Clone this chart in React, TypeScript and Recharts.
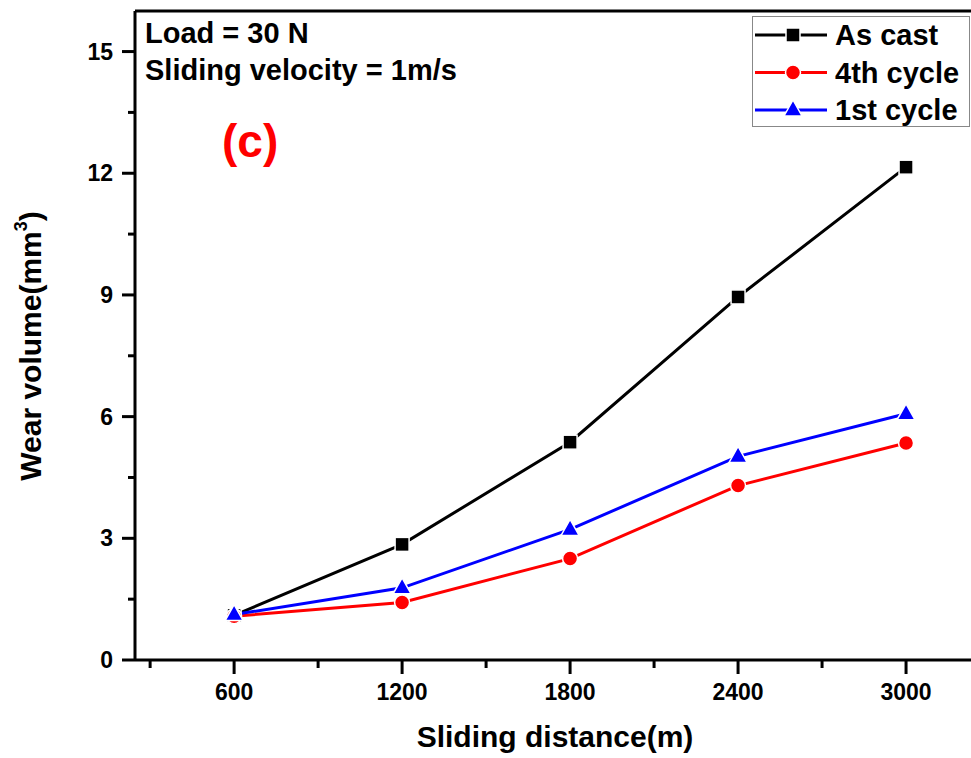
import React from 'react';
import { LineChart, Line, XAxis, YAxis, Legend, ReferenceLine } from 'recharts';

// values
const distances = [600, 1200, 1800, 2400, 3000];
const asCast = [1.1, 2.85, 5.37, 8.95, 12.15];
const fourthCycle = [1.08, 1.42, 2.5, 4.3, 5.35];
const firstCycle = [1.12, 1.78, 3.22, 5.02, 6.07];

const xMajorTicks = [600, 1200, 1800, 2400, 3000];
const xMinorTicks = [300, 900, 1500, 2100, 2700];
const yMajorTicks = [0, 3, 6, 9, 12, 15];
const yMinorTicks = [1.5, 4.5, 7.5, 10.5, 13.5];

const data = distances.map((d, i) => ({
  distance: d,
  asCast: asCast[i],
  fourth: fourthCycle[i],
  first: firstCycle[i],
}));

const FONT = '"Liberation Sans", Arial, sans-serif';

const series = [
  { key: 'asCast', name: 'As cast', color: '#000000', shape: 'square' },
  { key: 'fourth', name: '4th cycle', color: '#ff0000', shape: 'circle' },
  { key: 'first', name: '1st cycle', color: '#0000ff', shape: 'triangle' },
];

const Marker = ({ cx, cy, shape, color }: any) => {
  if (cx == null || cy == null) return null;
  if (shape === 'square') {
    return <rect x={cx - 7} y={cy - 7} width={14} height={14} fill={color} stroke="#fff" strokeWidth={1.5} />;
  }
  if (shape === 'circle') {
    return <circle cx={cx} cy={cy} r={7.5} fill={color} stroke="#fff" strokeWidth={1.5} />;
  }
  return (
    <polygon
      points={`${cx},${cy - 10} ${cx + 9},${cy + 6} ${cx - 9},${cy + 6}`}
      fill={color}
      stroke="#fff"
      strokeWidth={1.5}
    />
  );
};

const XTick = ({ x, y, payload }: any) => {
  const major = xMajorTicks.includes(payload.value);
  return (
    <g>
      <line x1={x} y1={y} x2={x} y2={y + (major ? 14 : 8)} stroke="#000" strokeWidth={3} />
      {major && (
        <text x={x} y={y + 40} textAnchor="middle" fontFamily={FONT} fontWeight="bold" fontSize={23} fill="#000">
          {payload.value}
        </text>
      )}
    </g>
  );
};

const YTick = ({ x, y, payload }: any) => {
  const major = yMajorTicks.includes(payload.value);
  return (
    <g>
      <line x1={x} y1={y} x2={x - (major ? 13 : 7)} y2={y} stroke="#000" strokeWidth={3} />
      {major && (
        <text x={x - 22} y={y + 8} textAnchor="end" fontFamily={FONT} fontWeight="bold" fontSize={23} fill="#000">
          {payload.value}
        </text>
      )}
    </g>
  );
};

const LegendBox = () => (
  <svg width={218} height={111} style={{ display: 'block' }}>
    <rect x={0.5} y={0.5} width={217} height={110} fill="#fff" stroke="#888" strokeWidth={1} />
    {series.map((s, i) => {
      const cy = 19 + i * 37.5;
      return (
        <g key={s.key}>
          <line x1={3} y1={cy} x2={75} y2={cy} stroke={s.color} strokeWidth={3} />
          <Marker cx={41} cy={cy} shape={s.shape} color={s.color} />
          <text x={83} y={cy + 10} fontFamily={FONT} fontWeight="bold" fontSize={29} fill="#000">
            {s.name}
          </text>
        </g>
      );
    })}
  </svg>
);

const YTitle = () => (
  <text
    transform="translate(41, 346) rotate(-90)"
    textAnchor="middle"
    fontFamily={FONT}
    fontWeight="bold"
    fontSize={30}
    fill="#000"
  >
    Wear volume(mm<tspan dy={-14} fontSize={18}>3</tspan>
    <tspan dy={14}>)</tspan>
  </text>
);

const XTitle = () => (
  <text x={555} y={747} textAnchor="middle" fontFamily={FONT} fontWeight="bold" fontSize={30} fill="#000">
    Sliding distance(m)
  </text>
);

export default function App() {
  return (
    <div style={{ position: 'absolute', left: 0, top: 0, width: 971, height: 758, overflow: 'hidden', background: '#fff' }}>
      <LineChart width={971} height={758} data={data} margin={{ top: 11, right: 0, bottom: 0, left: 0 }}>
        <XAxis
          dataKey="distance"
          type="number"
          domain={[246, 3232]}
          ticks={[...xMinorTicks, ...xMajorTicks].sort((a, b) => a - b)}
          tick={<XTick />}
          tickLine={false}
          tickSize={0}
          tickMargin={0}
          height={98}
          axisLine={{ stroke: '#000', strokeWidth: 3 }}
          allowDataOverflow
          label={{ content: () => <XTitle /> }}
        />
        <YAxis
          type="number"
          domain={[0, 16]}
          ticks={[...yMinorTicks, ...yMajorTicks].sort((a, b) => a - b)}
          tick={<YTick />}
          tickLine={false}
          tickSize={0}
          tickMargin={0}
          width={135}
          axisLine={{ stroke: '#000', strokeWidth: 3 }}
          interval={0}
          label={{ content: () => <YTitle /> }}
        />
        <ReferenceLine y={16} stroke="#000" strokeWidth={3} ifOverflow="visible" />
        <Legend
          layout="vertical"
          align="center"
          verticalAlign="middle"
          content={() => <LegendBox />}
          wrapperStyle={{ left: 752, top: 16, width: 218, height: 111 }}
        />
        {series.map((s) => (
          <Line
            key={s.key}
            dataKey={s.key}
            name={s.name}
            stroke={s.color}
            strokeWidth={3}
            isAnimationActive={false}
            dot={(p: any) => <Marker key={`${s.key}-${p.index}`} cx={p.cx} cy={p.cy} shape={s.shape} color={s.color} />}
            activeDot={false}
          />
        ))}
        <g>
          <text x={145} y={43} fontFamily={FONT} fontWeight="bold" fontSize={29} fill="#000">
            Load = 30 N
          </text>
          <text x={145} y={80} fontFamily={FONT} fontWeight="bold" fontSize={29} fill="#000">
            Sliding velocity = 1m/s
          </text>
          <text x={222} y={157} fontFamily={FONT} fontWeight="bold" fontSize={46} fill="#ff0000">
            (c)
          </text>
        </g>
      </LineChart>
    </div>
  );
}
